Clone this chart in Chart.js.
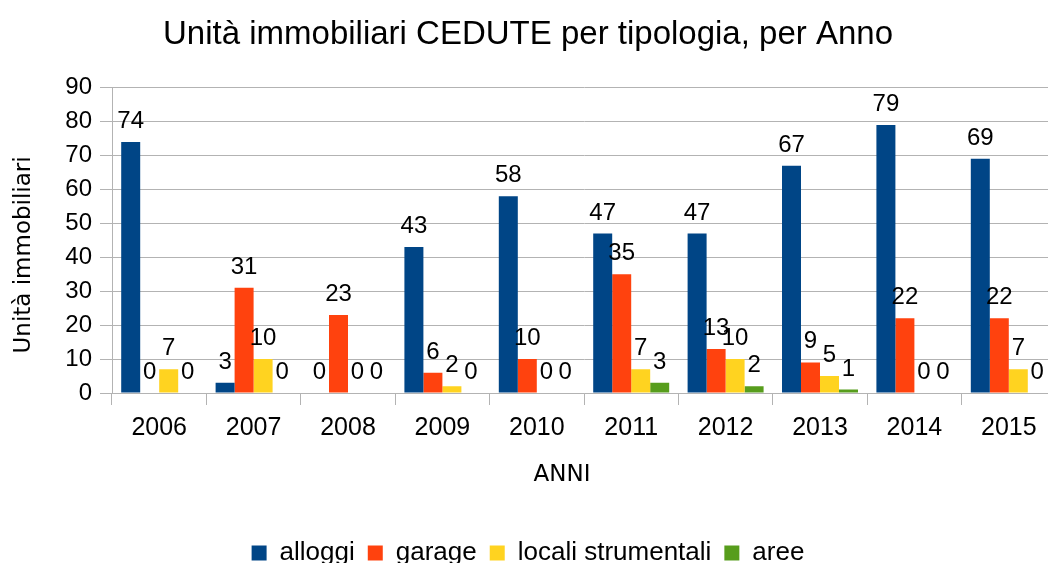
<!DOCTYPE html>
<html>
<head>
<meta charset="utf-8">
<script src="https://cdn.jsdelivr.net/npm/chart.js@4.4.1/dist/chart.umd.min.js"></script>
<style>
  html, body { margin: 0; padding: 0; overflow: hidden; background: #fff; }
  #wrap { width: 1048px; height: 563px; overflow: hidden; }
</style>
</head>
<body>
<div id="wrap">
  <canvas id="chart" width="1056" height="576"></canvas>
</div>
<script>
const anni = ['2006', '2007', '2008', '2009', '2010', '2011', '2012', '2013', '2014', '2015'];
const alloggi = [74, 3, 0, 43, 58, 47, 47, 67, 79, 69];
const garage = [0, 31, 23, 6, 10, 35, 13, 9, 22, 22];
const localiStrumentali = [7, 10, 0, 2, 0, 7, 10, 5, 0, 7];
const aree = [0, 0, 0, 0, 0, 3, 2, 1, 0, 0];

const SANS = '"Liberation Sans", Arial, sans-serif';
const DEJAVU = '"DejaVu Sans", sans-serif';
const GRID = '#b3b3b3';
const NBSP = '\u00a0';

// numbers above each bar, like the office chart does
const valueLabels = {
  id: 'valueLabels',
  afterDatasetsDraw(chart) {
    const ctx = chart.ctx;
    ctx.save();
    ctx.font = '24px ' + SANS;
    ctx.fillStyle = '#000';
    ctx.textAlign = 'center';
    ctx.textBaseline = 'alphabetic';
    chart.data.datasets.forEach((ds, i) => {
      const meta = chart.getDatasetMeta(i);
      meta.data.forEach((bar, j) => {
        ctx.fillText(String(ds.data[j]), bar.x, bar.y - 14);
      });
    });
    ctx.restore();
  },
};

new Chart(document.getElementById('chart'), {
  type: 'bar',
  data: {
    labels: anni,
    datasets: [
      { label: 'alloggi', data: alloggi, backgroundColor: '#004586' },
      { label: 'garage', data: garage, backgroundColor: '#ff420e' },
      { label: 'locali strumentali', data: localiStrumentali, backgroundColor: '#ffd320' },
      { label: 'aree', data: aree, backgroundColor: '#579d1c' },
    ],
  },
  options: {
    responsive: false,
    animation: false,
    layout: { padding: 0 },
    datasets: {
      bar: { categoryPercentage: 0.805, barPercentage: 1.0, borderWidth: 0 },
    },
    scales: {
      x: {
        grid: {
          offset: true,
          drawOnChartArea: false,
          drawTicks: true,
          tickLength: 12,
          color: GRID,
        },
        border: { color: GRID },
        ticks: { color: '#000', font: { family: SANS, size: 25 }, padding: 8 },
        title: {
          display: true,
          // trailing spaces pull the word left, where the original sits
          text: 'ANNI' + NBSP.repeat(6),
          color: '#000',
          font: { family: DEJAVU, size: 23 },
          padding: { top: 20, bottom: 38 },
        },
        afterFit: (scale) => { scale.height = 134; },
      },
      y: {
        min: 0,
        max: 90,
        ticks: { stepSize: 10, color: '#000', font: { family: SANS, size: 24 }, padding: 8 },
        grid: { color: GRID, tickLength: 12 },
        border: { color: GRID },
        title: {
          display: true,
          text: 'Unità immobiliari' + NBSP.repeat(4),
          color: '#000',
          font: { family: DEJAVU, size: 23 },
          padding: { top: 10, bottom: 0 },
        },
        afterFit: (scale) => { scale.width = 112; },
      },
    },
    plugins: {
      title: {
        display: true,
        text: 'Unità immobiliari CEDUTE per tipologia, per Anno',
        color: '#000',
        font: { family: SANS, size: 33, weight: 'normal' },
        padding: { top: 15, bottom: 33 },
      },
      legend: {
        position: 'bottom',
        labels: {
          color: '#000',
          font: { family: SANS, size: 26 },
          boxWidth: 15,
          boxHeight: 15,
          padding: 13,
        },
      },
      tooltip: { enabled: false },
    },
  },
  plugins: [valueLabels],
});
</script>
</body>
</html>
